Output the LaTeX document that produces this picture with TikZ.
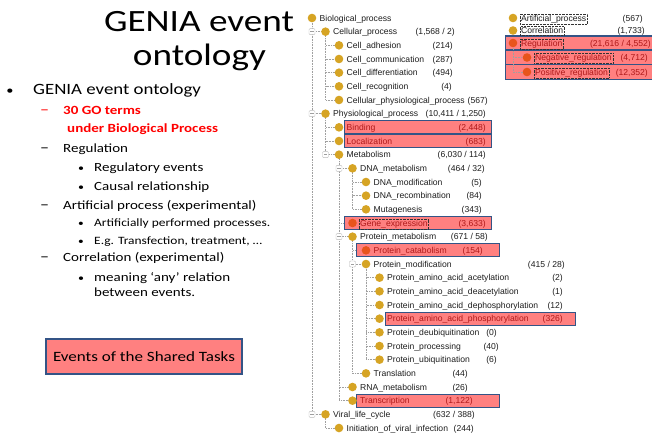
\documentclass[tikz,border=0pt]{standalone}
\usepackage{fontspec}
\setmainfont{Carlito}[FakeStretch=1.2]
\newfontfamily\treefont{Liberation Sans}
\definecolor{gold}{RGB}{214,164,36}
\definecolor{reddot}{RGB}{232,84,28}
\definecolor{hlfill}{RGB}{255,128,128}
\definecolor{hlborder}{RGB}{52,84,134}
\definecolor{hltext}{RGB}{175,25,25}
\definecolor{linegray}{RGB}{160,160,160}
\definecolor{treetext}{RGB}{30,30,30}
\definecolor{pptred}{RGB}{255,0,0}
\tikzset{
  dot/.style={circle, fill=gold, inner sep=0pt, minimum size=8.6pt},
  rdot/.style={fill=reddot},
  treeline/.style={draw=linegray, densely dotted, line width=0.6pt},
  lbl/.style={anchor=base west, inner sep=0pt, font=\treefont\fontsize{8.6}{10}\selectfont, text=treetext},
  cnt/.style={anchor=base east, inner sep=0pt, font=\treefont\fontsize{8.6}{10}\selectfont, text=treetext},
  hltxt/.style={text=hltext},
  focus/.style={draw=black!80, densely dotted, inner sep=1pt},
  hlbox/.style={draw=hlborder, line width=1.2pt, fill=hlfill, inner sep=0pt, minimum height=13pt, anchor=west},
  expander/.style={draw=gray!55, rounded corners=1pt, fill=white, minimum size=6pt, inner sep=0pt,
    path picture={\draw[gray!75, line width=0.5pt] ([xshift=1.3pt]path picture bounding box.west) -- ([xshift=-1.3pt]path picture bounding box.east);}},
  titletxt/.style={anchor=base, inner sep=0pt, font=\fontsize{31}{34}\selectfont},
  lvone/.style={anchor=base west, inner sep=0pt, font=\fontsize{15.7}{18}\selectfont},
  lvtwo/.style={anchor=base west, inner sep=0pt, font=\fontsize{12.5}{15}\selectfont},
  lvthree/.style={anchor=base west, inner sep=0pt, font=\fontsize{11.2}{14}\selectfont},
  dashmark/.style={anchor=base west, inner sep=0pt, font=\fontsize{15}{18}\selectfont},
  bul/.style={anchor=base, inner sep=0pt},
  eventbox/.style={draw=hlborder, line width=1.3pt, fill=hlfill, minimum width=196pt, minimum height=35pt, inner sep=0pt, font=\fontsize{14.2}{17}\selectfont},
}
% tree helpers
\newcommand\rowpos[2]{\coordinate (d#1) at ({312+13.5*#2},{18+13.667*#1});}
\newcommand\trow[6][]{%
  \node[dot,#1] (n#2) at (d#2) {};
  \node[lbl,#6] (t#2) at ([xshift=7.5pt,yshift=-3.2pt]d#2) {#3};
  \node[cnt,#6] (c#2) at (#5,{18+13.667*#2+3.2}) {#4};
}
\newcommand\expd[3]{\node[expander] (e#1) at ({312+13.5*#2},{18+13.667*#1}) {};}
\newcommand\hlrow[4]{\node[hlbox, minimum width=#3pt] (h#1) at (#2,{18+13.667*#1}) {};}
\begin{document}
\begin{tikzpicture}[x=1pt,y=-1pt]
\useasboundingbox (0,0) rectangle (652,436);
\fill[white] (0,0) rectangle (652,436);

% ---------- left column ----------
\node[titletxt] (ti1) at (199,32) {GENIA event};
\node[titletxt] (ti2) at (199.5,66) {ontology};

\node[bul, font=\fontsize{12}{14}\selectfont] (bu1) at (10,94) {•};
\node[lvone] (l1) at (33,94) {GENIA event ontology};

\node[dashmark, text=pptred] (da1) at (40,114.5) {–};
\node[lvtwo, text=pptred, font=\bfseries\fontsize{12.5}{15}\selectfont] (l2) at (63,114.5) {30 GO terms};
\node[lvtwo, text=pptred, font=\bfseries\fontsize{12.5}{15}\selectfont] (l3) at (67,132.3) {under Biological Process};

\node[dashmark] (da2) at (40,152) {–};
\node[lvtwo] (l4) at (63,152) {Regulation};
\node[bul, font=\fontsize{10}{12}\selectfont] (bu2) at (81,171.7) {•};
\node[lvtwo] (l5) at (94,171.7) {Regulatory events};
\node[bul, font=\fontsize{10}{12}\selectfont] (bu3) at (81,190) {•};
\node[lvtwo] (l6) at (94,190) {Causal relationship};

\node[dashmark] (da3) at (40,209.3) {–};
\node[lvtwo] (l7) at (63,209.3) {Artificial process (experimental)};
\node[bul, font=\fontsize{9.5}{12}\selectfont] (bu4) at (81,226.7) {•};
\node[lvthree] (l8) at (94,226.7) {Artificially performed processes.};
\node[bul, font=\fontsize{9.5}{12}\selectfont] (bu5) at (81,244) {•};
\node[lvthree] (l9) at (94,244) {E.g. Transfection, treatment, …};

\node[dashmark] (da4) at (40,261.7) {–};
\node[lvtwo] (l10) at (63,261.7) {Correlation (experimental)};
\node[bul, font=\fontsize{10}{12}\selectfont] (bu6) at (81,281) {•};
\node[lvtwo] (l11) at (94,281) {meaning ‘any’ relation};
\node[lvtwo] (l12) at (94,296.7) {between events.};

\node[eventbox] (ev) at (144,356.5) {Events of the Shared Tasks};

% ---------- tree: positions ----------
\rowpos{0}{0}
\rowpos{1}{1}
\rowpos{2}{2}\rowpos{3}{2}\rowpos{4}{2}\rowpos{5}{2}\rowpos{6}{2}
\rowpos{7}{1}
\rowpos{8}{2}\rowpos{9}{2}\rowpos{10}{2}
\rowpos{11}{3}
\rowpos{12}{4}\rowpos{13}{4}\rowpos{14}{4}
\rowpos{15}{3}\rowpos{16}{3}
\rowpos{17}{4}\rowpos{18}{4}
\rowpos{19}{5}\rowpos{20}{5}\rowpos{21}{5}\rowpos{22}{5}\rowpos{23}{5}\rowpos{24}{5}\rowpos{25}{5}
\rowpos{26}{4}
\rowpos{27}{3}\rowpos{28}{3}
\rowpos{29}{1}
\rowpos{30}{2}

% ---------- tree: connectors ----------
\foreach \p/\c in {0/1,0/7,0/29, 1/2,1/3,1/4,1/5,1/6, 7/8,7/9,7/10,
  10/11,10/15,10/16,10/27,10/28, 11/12,11/13,11/14, 16/17,16/18,16/26,
  18/19,18/20,18/21,18/22,18/23,18/24,18/25, 29/30}
  \draw[treeline] (d\p) |- (d\c);

% ---------- tree: highlight boxes ----------
\hlrow{8}{344}{147}{}
\hlrow{9}{344}{147}{}
\hlrow{15}{344}{147}{}
\hlrow{17}{356}{143}{}
\hlrow{22}{385}{190}{}
\hlrow{28}{356}{143}{}

% ---------- tree: expanders ----------
\expd{1}{0}{}\expd{7}{0}{}\expd{29}{0}{}
\expd{10}{1}{}
\expd{11}{2}{}\expd{16}{2}{}
\expd{18}{3}{}

% ---------- tree: rows ----------
\node[dot] (n0) at (d0) {};
\node[lbl] (t0) at ([xshift=7.5pt,yshift=-3.2pt]d0) {Biological\_process};
\trow{1}{Cellular\_process}{(1,568 / 2)}{455}{}
\trow{2}{Cell\_adhesion}{(214)}{453}{}
\trow{3}{Cell\_communication}{(287)}{453}{}
\trow{4}{Cell\_differentiation}{(494)}{453}{}
\trow{5}{Cell\_recognition}{(4)}{452}{}
\trow{6}{Cellular\_physiological\_process}{(567)}{488}{}
\trow{7}{Physiological\_process}{(10,411 / 1,250)}{486}{}
\trow{8}{Binding}{(2,448)}{486}{hltxt}
\trow{9}{Localization}{(683)}{486}{hltxt}
\trow{10}{Metabolism}{(6,030 / 114)}{486}{}
\trow{11}{DNA\_metabolism}{(464 / 32)}{485}{}
\trow{12}{DNA\_modification}{(5)}{482}{}
\trow{13}{DNA\_recombination}{(84)}{482}{}
\trow{14}{Mutagenesis}{(343)}{482}{}
\node[dot,rdot] (n15) at (d15) {};
\node[lbl,hltxt,focus] (t15) at ([xshift=6.5pt,yshift=-3.2pt]d15) {Gene\_expression};
\node[cnt,hltxt] (c15) at (486,{18+13.667*15+3.2}) {(3,633)};
\trow{16}{Protein\_metabolism}{(671 / 58)}{488}{}
\trow[rdot]{17}{Protein\_catabolism}{(154)}{483}{hltxt}
\trow{18}{Protein\_modification}{(415 / 28)}{565}{}
\trow{19}{Protein\_amino\_acid\_acetylation}{(2)}{563}{}
\trow{20}{Protein\_amino\_acid\_deacetylation}{(1)}{563}{}
\trow{21}{Protein\_amino\_acid\_dephosphorylation}{(12)}{563}{}
\trow{22}{Protein\_amino\_acid\_phosphorylation}{(326)}{563}{hltxt}
\trow{23}{Protein\_deubiquitination}{(0)}{497}{}
\trow{24}{Protein\_processing}{(40)}{499}{}
\trow{25}{Protein\_ubiquitination}{(6)}{497}{}
\trow{26}{Translation}{(44)}{468}{}
\trow{27}{RNA\_metabolism}{(26)}{468}{}
\trow{28}{Transcription}{(1,122)}{473}{hltxt}
\trow{29}{Viral\_life\_cycle}{(632 / 388)}{475}{}
\trow{30}{Initiation\_of\_viral\_infection}{(244)}{474}{}

% ---------- right column ----------
\coordinate (ra) at (513,18);
\coordinate (rc) at (513,30.5);
\coordinate (rr) at (513,43);
\coordinate (rn) at (527,57.5);
\coordinate (rp) at (527,72);
\node[hlbox, minimum width=150pt, minimum height=14pt] (hr) at (505,43) {};
\node[hlbox, minimum width=150pt, minimum height=14.5pt] (hn) at (505,57.5) {};
\node[hlbox, minimum width=150pt, minimum height=14.5pt] (hp) at (505,72) {};
\draw[treeline] (rr) |- (rn);
\draw[treeline] (rr) |- (rp);
\node[dot] (na) at (ra) {};
\node[dot] (nc) at (rc) {};
\node[dot,rdot] (nr) at (rr) {};
\node[dot,rdot] (nn) at (rn) {};
\node[dot,rdot] (np) at (rp) {};
\node[lbl,focus] (ta) at ([xshift=7pt,yshift=-3.2pt]ra) {Artificial\_process};
\node[lbl,focus] (tc) at ([xshift=7pt,yshift=-3.2pt]rc) {Correlation};
\node[lbl,focus,hltxt] (tr) at ([xshift=7pt,yshift=-3.2pt]rr) {Regulation};
\node[lbl,focus,hltxt] (tn) at ([xshift=7pt,yshift=-3.2pt]rn) {Negative\_regulation};
\node[lbl,focus,hltxt] (tp) at ([xshift=7pt,yshift=-3.2pt]rp) {Positive\_regulation};
\node[cnt] (ca) at (643,21.2) {(567)};
\node[cnt] (cc) at (645,33.7) {(1,733)};
\node[cnt,hltxt] (cr) at (651,46.2) {(21,616 / 4,552)};
\node[cnt,hltxt] (cn) at (648,60.7) {(4,712)};
\node[cnt,hltxt] (cp) at (648,75.2) {(12,352)};
\end{tikzpicture}
\end{document}
